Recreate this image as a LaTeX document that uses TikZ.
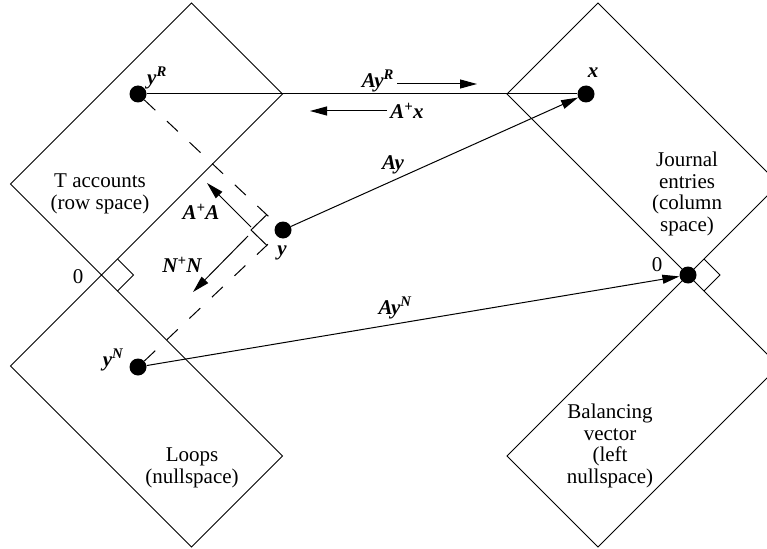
\documentclass[tikz,border=0pt]{standalone}
\usepackage{fontspec}
\setmainfont{Liberation Serif}
\usetikzlibrary{arrows.meta, calc, positioning}
\tikzstyle{wall} = [line width=1pt]
\tikzstyle{dot} = [circle, fill=black, minimum size=17pt, inner sep=0pt]
\tikzstyle{arrow} = [line width=1pt, -{Triangle[length=17pt, width=9pt]}]
\tikzstyle{proj} = [line width=1pt, dash pattern=on 15pt off 16pt]
\tikzstyle{sub} = [align=center, font=\fontsize{21}{21.5}\selectfont]
\tikzstyle{var} = [inner sep=1pt, font=\fontsize{21}{22}\selectfont\bfseries\itshape]

\begin{document}
\begin{tikzpicture}[x=1pt, y=-1pt]
    \clip (0,0) rectangle (767,548);
    \coordinate (o1) at (101.5,275);
    \coordinate (o2) at (688,275);

    % Subspaces
    \draw [wall] (o1) -- +(181,-181) -- +(90,-272) -- +(-91,-91) -- cycle;
    \draw [wall] (o1) -- +(181,181) -- +(90,272) -- +(-91,91) -- cycle;
    \draw [wall] (o2) -- +(-181,-181) -- +(-90,-272) -- +(91,-91) -- cycle;
    \draw [wall] (o2) -- +(-181,181) -- +(-90,272) -- +(91,91) -- cycle;
    \draw [wall] (o1) ++(16,-16) -- ++(16,16) -- ++(-16,16);
    \draw [wall] (o2) ++(16,-16) -- ++(16,16) -- ++(-16,16);

    \node (rowtxt) [sub] at (100,194) {T accounts\\(row space)};
    \node (nulltxt) [sub] at (192,468) {Loops\\(nullspace)};
    \node (coltxt) [sub] at (687,194) {Journal\\entries\\(column\\space)};
    \node (lefttxt) [sub] at (610,446) {Balancing\\vector\\(left\\nullspace)};
    \node (o1lbl) [sub] at (78,277) {0};
    \node (o2lbl) [sub] at (657,265) {0};

    % Vectors
    \node (yR) [dot] at (138,94) {};
    \node (x) [dot] at (586,94) {};
    \node (y) [dot] at (283,230) {};
    \node (yN) [dot] at (138,367) {};
    \node (zero) [dot] at (o2) {};

    \node (yRlbl) [var] at (157,78) {y\textsuperscript{R}};
    \node (xlbl) [var] at (593,73) {x};
    \node (ylbl) [var] at (282,253) {y};
    \node (yNlbl) [var] at (113,360) {y\textsuperscript{N}};

    % Maps
    \draw [wall] (yR) -- (x);
    \draw [arrow] (y) -- (x);
    \draw [arrow] (yN) -- (zero);
    \draw [proj] (yR) -- (y);
    \draw [proj] (yN) -- (y);
    \draw [wall] (267,214.5) -- (251,230) -- (267,245.5);

    \coordinate (ayr1) at (397,84);
    \coordinate (ayr2) at (477,84);
    \coordinate (apx1) at (387,111);
    \coordinate (apx2) at (310,111);
    \coordinate (apa1) at (251,227);
    \coordinate (apa2) at (207,183);
    \coordinate (npn1) at (248,236);
    \coordinate (npn2) at (193,292);
    \draw [arrow] (ayr1) -- (ayr2);
    \draw [arrow] (apx1) -- (apx2);
    \draw [arrow] (apa1) -- (apa2);
    \draw [arrow] (npn1) -- (npn2);

    \node (ayrlbl) [var] at (378,81) {Ay\textsuperscript{R}};
    \node (apxlbl) [var] at (407,111) {A\textsuperscript{+}x};
    \node (apalbl) [var] at (201,212) {A\textsuperscript{+}A};
    \node (npnlbl) [var] at (182,265) {N\textsuperscript{+}N};
    \node (aylbl) [var] at (393,165) {Ay};
    \node (aynlbl) [var] at (395,308) {Ay\textsuperscript{N}};
\end{tikzpicture}
\end{document}
